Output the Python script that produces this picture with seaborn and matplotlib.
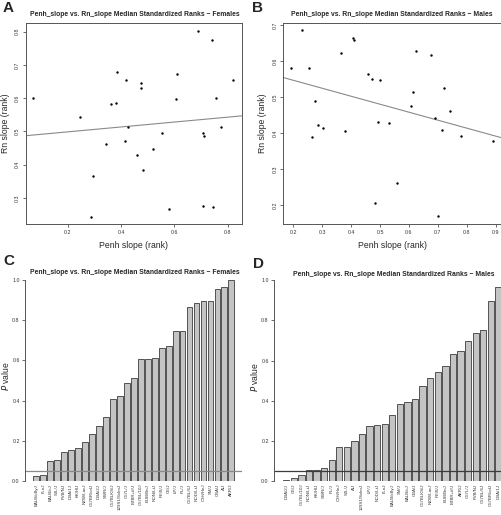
import numpy as np
import pandas as pd
import matplotlib
matplotlib.use("Agg")
import matplotlib.pyplot as plt
import seaborn as sns

# Panel A - females, median standardized ranks
fem_penh = [0.070, 0.245, 0.286, 0.295, 0.345, 0.361, 0.380, 0.384, 0.414, 0.419,
            0.426, 0.460, 0.474, 0.475, 0.481, 0.518, 0.555, 0.581, 0.605, 0.610,
            0.690, 0.706, 0.708, 0.710, 0.740, 0.744, 0.755, 0.775, 0.820]
fem_rn = [0.602, 0.542, 0.244, 0.366, 0.462, 0.582, 0.585, 0.678, 0.472, 0.656,
          0.512, 0.428, 0.647, 0.631, 0.383, 0.448, 0.495, 0.266, 0.597, 0.674,
          0.803, 0.276, 0.494, 0.487, 0.776, 0.272, 0.601, 0.512, 0.655]

# Panel B - males
male_penh = [0.193, 0.230, 0.253, 0.263, 0.274, 0.284, 0.303, 0.366, 0.377, 0.408,
             0.410, 0.457, 0.472, 0.481, 0.492, 0.499, 0.531, 0.558, 0.609, 0.613,
             0.623, 0.677, 0.690, 0.700, 0.713, 0.720, 0.742, 0.779, 0.891]
male_rn = [0.580, 0.686, 0.582, 0.389, 0.488, 0.423, 0.413, 0.624, 0.407, 0.664,
           0.658, 0.563, 0.551, 0.206, 0.430, 0.547, 0.428, 0.262, 0.474, 0.513,
           0.628, 0.616, 0.441, 0.168, 0.408, 0.525, 0.461, 0.391, 0.377]

# Panel C - per strain P values, females
fem_strains = ["BALB/cByJ", "I/LnJ", "BALB/cJ", "SJL/J", "FVB/NJ", "DBA/1J", "KK/HlJ",
               "NZW/LacJ", "C57BR/cdJ", "DBA/2J", "SWR/J", "C57BLKS/J", "129S1/SvImJ",
               "C57L/J", "BTBR+tf/J", "C57BL/10J", "BUB/BnJ", "NON/LtJ", "RIIIS/J",
               "CE/J", "LP/J", "PL/J", "C57BL/6J", "NOD/LtJ", "C3H/HeJ", "SM/J",
               "CBA/J", "A/J", "AKR/J"]
fem_p = [0.025, 0.030, 0.100, 0.105, 0.145, 0.155, 0.165, 0.195, 0.232, 0.275,
         0.320, 0.410, 0.422, 0.490, 0.515, 0.605, 0.605, 0.612, 0.660, 0.672,
         0.745, 0.745, 0.866, 0.886, 0.896, 0.896, 0.957, 0.965, 1.000]

# Panel D - per strain P values, males
male_strains = ["DBA/2J", "CE/J", "C57BL/10J", "NON/LtJ", "KK/HlJ", "SWR/J", "PL/J",
                "C3H/HeJ", "SJL/J", "A/J", "129S1/SvImJ", "LP/J", "NOD/LtJ", "I/LnJ",
                "BALB/cByJ", "SM/J", "BALB/cJ", "CBA/J", "C57BLKS/J", "NZW/LacJ",
                "RIIIS/J", "BUB/BnJ", "BTBR+tf/J", "AKR/J", "C57L/J", "FVB/NJ",
                "C57BL/6J", "C57BR/cdJ", "DBA/1J"]
male_p = [0.005, 0.015, 0.032, 0.055, 0.055, 0.065, 0.105, 0.168, 0.168, 0.200,
          0.235, 0.275, 0.278, 0.285, 0.330, 0.385, 0.393, 0.410, 0.473, 0.515,
          0.543, 0.573, 0.632, 0.647, 0.697, 0.740, 0.750, 0.895, 0.965]

sns.set_style("white")
plt.rcParams['font.family'] = ['Liberation Sans', 'DejaVu Sans']

fig = plt.figure(figsize=(5.02, 5.15), dpi=100)
W, H = 502.0, 515.0

def px_axes(l, t, r, b):
    return fig.add_axes([l / W, 1 - b / H, (r - l) / W, (b - t) / H])

title_f = "Penh_slope vs. Rn_slope Median Standardized Ranks \u2212 Females"
title_m = "Penh_slope vs. Rn_slope Median Standardized Ranks \u2212 Males"


def scatter_panel(ax, x, y, xlim, ylim, xticks, yticks):
    df = pd.DataFrame({"penh": x, "rn": y})
    ax.set_xlim(xlim)
    ax.set_ylim(ylim)
    sns.scatterplot(data=df, x="penh", y="rn", ax=ax, color="black", s=3,
                    linewidth=0, zorder=3)
    sns.regplot(data=df, x="penh", y="rn", ax=ax, scatter=False, ci=None,
                truncate=False, line_kws=dict(color="#8a8a8a", lw=0.8))
    ax.set_xlim(xlim)
    ax.set_ylim(ylim)
    ax.set_xticks(xticks)
    ax.set_xticklabels([f"{v:.1f}" for v in xticks])
    ax.set_yticks(yticks)
    ax.set_yticklabels([f"{v:.1f}" for v in yticks], rotation=90, va="center")
    ax.tick_params(length=2, width=0.5, pad=2, labelsize=3.8, colors="#333333",
                   direction="out", bottom=True, left=True)
    for s in ax.spines.values():
        s.set_color("#555555")
        s.set_linewidth(0.7)
    ax.set_xlabel("Penh slope (rank)", fontsize=6.2, labelpad=5)
    ax.set_ylabel("Rn slope (rank)", fontsize=6.2, labelpad=4)


def bar_panel(ax, names, vals, line_col):
    df = pd.DataFrame({"strain": names, "p": vals})
    sns.barplot(data=df, x="strain", y="p", ax=ax, color="#c4c4c4", saturation=1,
                width=1 / 1.2, edgecolor="#3c3c3c", linewidth=0.6)
    ax.set_xlim(-1.57, 29.57)
    ax.set_ylim(0, 1.04)
    ax.axhline(0.05, color=line_col, lw=0.9)
    ax.set_yticks([0, 0.2, 0.4, 0.6, 0.8, 1.0])
    ax.set_yticklabels(["0.0", "0.2", "0.4", "0.6", "0.8", "1.0"])
    ax.tick_params(axis="y", length=2, width=0.5, pad=2, labelsize=3.8,
                   colors="#333333", left=True)
    ax.tick_params(axis="x", length=0, pad=2, labelsize=3.2, labelrotation=90,
                   colors="#333333")
    for k in ["top", "right", "bottom"]:
        ax.spines[k].set_visible(False)
    ax.spines["left"].set_bounds(0, 1)
    ax.spines["left"].set_color("#555555")
    ax.spines["left"].set_linewidth(0.7)
    ax.set_xlabel("")
    ax.set_ylabel(r"$\it{P}$ value", fontsize=6.2, labelpad=1)


axA = px_axes(25.7, 23.3, 241.7, 224)
scatter_panel(axA, fem_penh, fem_rn, (0.0425, 0.8525), (0.222, 0.825),
              [0.2, 0.4, 0.6, 0.8], [0.3, 0.4, 0.5, 0.6, 0.7, 0.8])

axB = px_axes(283.3, 22.7, 501, 224)
scatter_panel(axB, male_penh, male_rn, (0.165, 0.919), (0.147, 0.707),
              [0.2, 0.3, 0.4, 0.5, 0.6, 0.7, 0.8, 0.9],
              [0.2, 0.3, 0.4, 0.5, 0.6, 0.7])

axC = px_axes(25.3, 272, 242.3, 481)
bar_panel(axC, fem_strains, fem_p, "#8a8a8a")

axD = px_axes(274.3, 272.3, 510.3, 481)
bar_panel(axD, male_strains, male_p, "#3c3c3c")

# panel titles and letters
for (cx, cy, txt) in [(135, 15, title_f), (392, 15, title_m),
                      (135, 273, title_f), (394, 274, title_m)]:
    fig.text(cx / W, 1 - cy / H, txt, ha="center", va="center",
             fontsize=4.9, fontweight="bold")
for (lx, ly, letter) in [(3, 8, "A"), (252, 8, "B"), (3, 261, "C"), (253, 264, "D")]:
    fig.text(lx / W, 1 - ly / H, letter, ha="left", va="center",
             fontsize=11, fontweight="bold")

fig.savefig("out.png", dpi=100)
